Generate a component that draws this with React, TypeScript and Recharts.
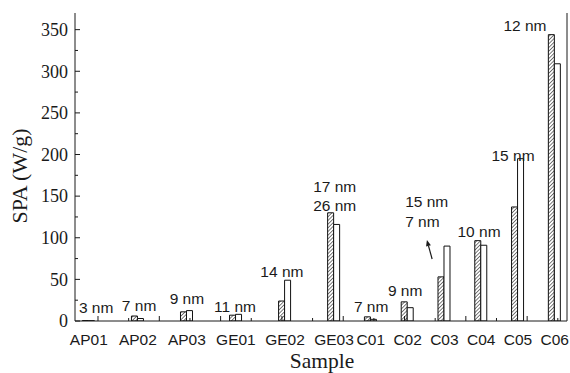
import React from 'react';
import { BarChart, Bar, XAxis, YAxis, ReferenceDot, ReferenceLine } from 'recharts';

// samples and where they sit on the x axis (two families with different spacing)
const samples = ['AP01', 'AP02', 'AP03', 'GE01', 'GE02', 'GE03', 'C01', 'C02', 'C03', 'C04', 'C05', 'C06'];
const positions = [0.7, 2.3, 3.9, 5.5, 7.1, 8.7, 9.9, 11.1, 12.3, 13.5, 14.7, 15.9];
const spaHatched = [0.6, 6, 11, 7, 24, 130, 5, 23, 53, 96.5, 137, 344];
const spaOpen = [0.4, 3, 12.5, 8, 49, 116, 2, 16, 90, 91, 195, 309];

const xTickMarks = [1, 2, 3, 4, 5, 6, 7, 8, 9, 10, 11, 12, 13, 14, 15, 16];
const yTicks = [0, 25, 50, 75, 100, 125, 150, 175, 200, 225, 250, 275, 300, 325, 350];

const X_DOMAIN: [number, number] = [0.25, 16.3];
const Y_DOMAIN: [number, number] = [0, 370];

// particle size labels (x anchor, baseline y in data units)
const annotations = [
  { text: '3 nm', x: 0.94, y: 9.6, anchor: 'middle' },
  { text: '7 nm', x: 2.34, y: 12, anchor: 'middle' },
  { text: '9 nm', x: 3.9, y: 20.4, anchor: 'middle' },
  { text: '11 nm', x: 5.47, y: 10.8, anchor: 'middle' },
  { text: '14 nm', x: 7.0, y: 52.9, anchor: 'middle' },
  { text: '17 nm', x: 8.02, y: 155, anchor: 'start' },
  { text: '26 nm', x: 8.02, y: 132, anchor: 'start' },
  { text: '7 nm', x: 9.91, y: 10.8, anchor: 'middle' },
  { text: '9 nm', x: 11.02, y: 30, anchor: 'middle' },
  { text: '15 nm', x: 11.02, y: 137, anchor: 'start' },
  { text: '7 nm', x: 11.02, y: 113, anchor: 'start' },
  { text: '10 nm', x: 13.43, y: 101, anchor: 'middle' },
  { text: '15 nm', x: 14.54, y: 192, anchor: 'middle' },
  { text: '12 nm', x: 14.93, y: 348, anchor: 'middle' },
];

const data = samples.map((name, i) => ({
  name,
  pos: positions[i],
  hatched: spaHatched[i],
  open: spaOpen[i],
}));

const allXTicks = [...xTickMarks, ...positions].sort((a, b) => a - b);

const SANS = '"Liberation Sans", Arial, sans-serif';
const SERIF = '"Liberation Serif", "Times New Roman", serif';
const INK = '#1a1a1a';

const TopTick = (p: any) => {
  const v = p.payload.value;
  const len = v % 2 === 1 ? 5 : 3;
  return <line x1={p.x} y1={p.y} x2={p.x} y2={p.y + len} stroke={INK} />;
};

const BottomTick = (p: any) => {
  const v = p.payload.value;
  const idx = positions.indexOf(v);
  if (idx >= 0) {
    return (
      <text x={p.x} y={p.y + 24} textAnchor="middle" fontFamily={SANS} fontSize={15.5} fill={INK}>
        {samples[idx]}
      </text>
    );
  }
  const len = v % 2 === 1 ? 5 : 3;
  return <line x1={p.x} y1={p.y} x2={p.x} y2={p.y - len} stroke={INK} />;
};

const LeftTick = (p: any) => {
  const v = p.payload.value;
  const major = v % 50 === 0;
  return (
    <g>
      <line x1={p.x} y1={p.y} x2={p.x + (major ? 5 : 3)} y2={p.y} stroke={INK} />
      {major && (
        <text x={p.x - 7} y={p.y} dy="0.35em" textAnchor="end" fontFamily={SERIF} fontSize={18} fill={INK}>
          {v}
        </text>
      )}
    </g>
  );
};

const Arrow = (p: any) => {
  const { x1, y1, x2, y2 } = p;
  const dx = x2 - x1;
  const dy = y2 - y1;
  const l = Math.sqrt(dx * dx + dy * dy) || 1;
  const ux = dx / l;
  const uy = dy / l;
  const bx = x2 - ux * 6;
  const by = y2 - uy * 6;
  return (
    <g>
      <line x1={x1} y1={y1} x2={bx} y2={by} stroke={INK} strokeWidth={1.2} />
      <polygon
        points={`${x2},${y2} ${bx - uy * 2.5},${by + ux * 2.5} ${bx + uy * 2.5},${by - ux * 2.5}`}
        fill={INK}
      />
    </g>
  );
};

export default function App() {
  return (
    <div style={{ width: 570, height: 373, background: '#fff' }}>
      <style>{'body{margin:0}'}</style>
      <svg width={0} height={0} style={{ position: 'absolute' }}>
        <defs>
          <pattern id="hatch" patternUnits="userSpaceOnUse" width={2.6} height={2.6} patternTransform="rotate(45)">
            <rect width={2.6} height={2.6} fill="#fff" />
            <line x1={0} y1={0} x2={0} y2={2.6} stroke="#111" strokeWidth={1.1} />
          </pattern>
        </defs>
      </svg>
      <BarChart
        width={570}
        height={373}
        data={data}
        margin={{ top: 13, right: 2, bottom: 0, left: 0 }}
        barGap={0}
      >
        <XAxis
          xAxisId="top"
          orientation="top"
          type="number"
          domain={X_DOMAIN}
          ticks={xTickMarks}
          interval={0}
          height={0}
          tickSize={0}
          tickMargin={0}
          tickLine={false}
          tick={TopTick}
          stroke={INK}
          allowDataOverflow
        />
        <XAxis
          dataKey="pos"
          type="number"
          domain={X_DOMAIN}
          ticks={allXTicks}
          interval={0}
          height={52}
          tickSize={0}
          tickMargin={0}
          tickLine={false}
          tick={BottomTick}
          stroke={INK}
          allowDataOverflow
          label={{
            content: () => (
              <text x={322} y={368} textAnchor="middle" fontFamily={SERIF} fontSize={21.5} fill={INK}>
                Sample
              </text>
            ),
          }}
        />
        <YAxis
          type="number"
          domain={Y_DOMAIN}
          ticks={yTicks}
          interval={0}
          width={75}
          tickSize={0}
          tickMargin={0}
          tickLine={false}
          tick={LeftTick}
          stroke={INK}
          allowDataOverflow
          label={{
            content: () => (
              <text
                x={19}
                y={176}
                transform="rotate(-90 19 176)"
                textAnchor="middle"
                dominantBaseline="central"
                fontFamily={SERIF}
                fontSize={22}
                fill={INK}
              >
                SPA (W/g)
              </text>
            ),
          }}
        />
        <YAxis
          yAxisId="right"
          orientation="right"
          type="number"
          domain={Y_DOMAIN}
          width={1}
          tick={false}
          tickLine={false}
          stroke={INK}
        />
        <Bar dataKey="hatched" fill="url(#hatch)" stroke="#111" strokeWidth={1} barSize={6} isAnimationActive={false} />
        <Bar dataKey="open" fill="#fff" stroke="#111" strokeWidth={1} barSize={6} isAnimationActive={false} />
        {annotations.map((a, i) => (
          <ReferenceDot
            key={i}
            x={a.x}
            y={a.y}
            r={0}
            fill="none"
            stroke="none"
            label={{
              content: (lp: any) => (
                <text
                  x={lp.viewBox.x}
                  y={lp.viewBox.y}
                  textAnchor={a.anchor}
                  fontFamily={SANS}
                  fontSize={15.5}
                  fill={INK}
                >
                  {a.text}
                </text>
              ),
            }}
          />
        ))}
        <ReferenceLine
          segment={[
            { x: 11.9, y: 74.5 },
            { x: 11.73, y: 97.3 },
          ]}
          shape={Arrow}
        />
      </BarChart>
    </div>
  );
}
